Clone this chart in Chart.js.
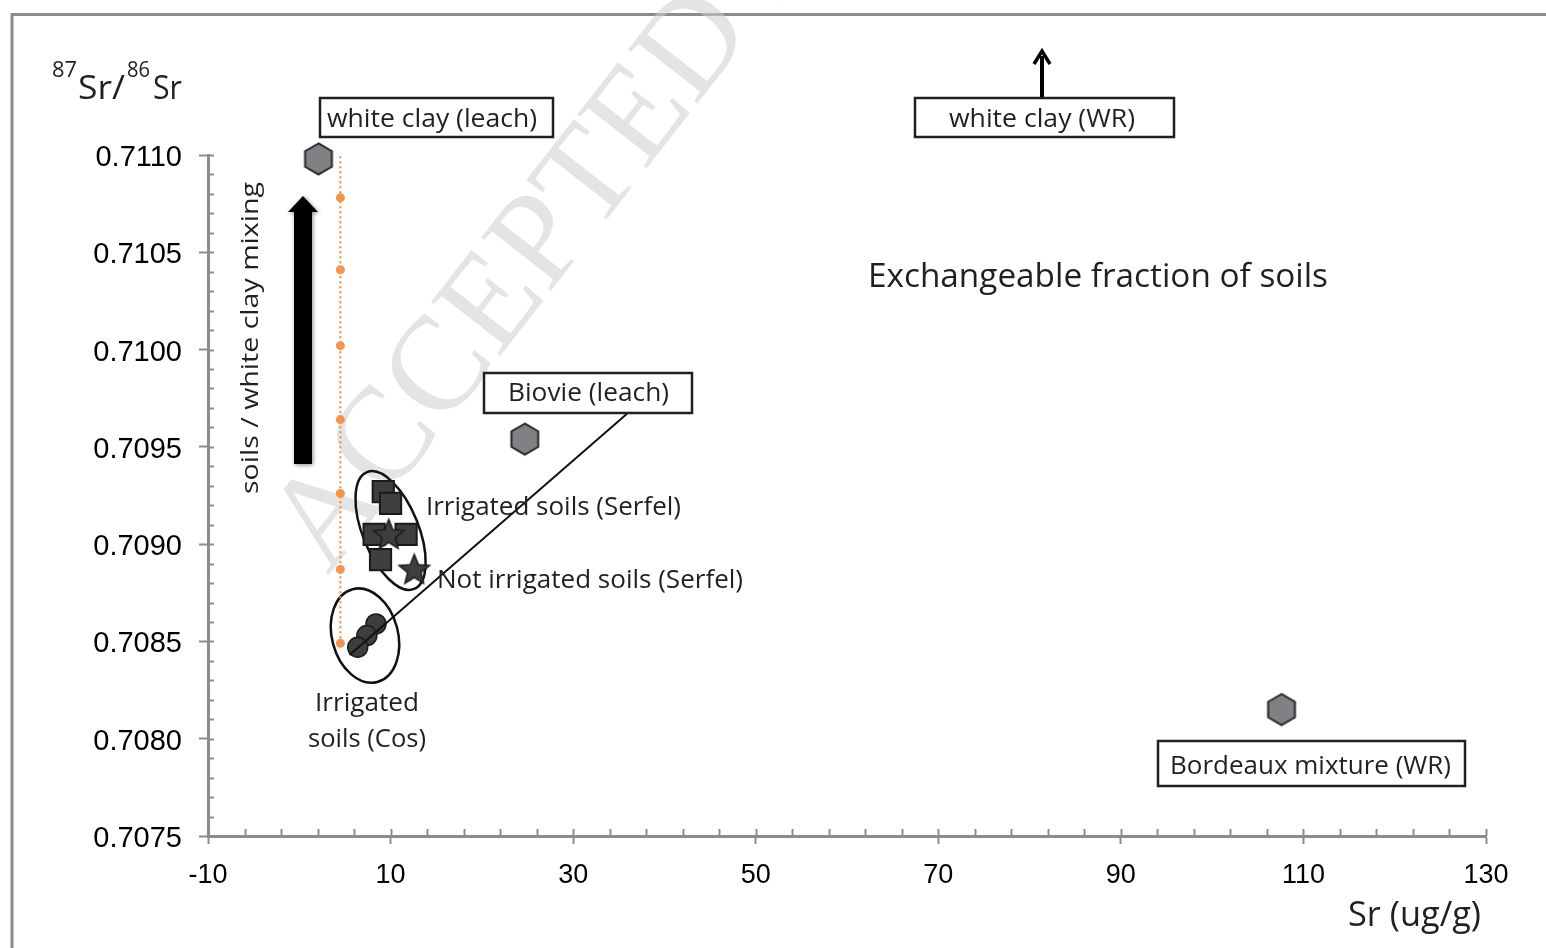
<!DOCTYPE html>
<html>
<head>
<meta charset="utf-8">
<script src="https://cdn.jsdelivr.net/npm/chart.js@4.4.1/dist/chart.umd.min.js"></script>
<style>
  html, body { margin: 0; padding: 0; background: #fff; }
</style>
</head>
<body>
<canvas id="chartId" width="1546" height="948"></canvas>
<script>
// --- data ---
const hexSr = [2.1, 24.7, 107.6];            // white clay (leach), Biovie (leach), Bordeaux mixture (WR)
const hexRatio = [0.71098, 0.70954, 0.70815];

const serfelSr = [9.2, 10.0, 8.2, 11.7, 8.9];       // Irrigated soils (Serfel)
const serfelRatio = [0.70927, 0.70921, 0.70905, 0.70905, 0.70892];

const notIrrSr = [9.8, 12.6];                      // Not irrigated soils (Serfel)
const notIrrRatio = [0.70905, 0.70887];

const cosSr = [8.4, 7.4, 6.4];                     // Irrigated soils (Cos)
const cosRatio = [0.70859, 0.70853, 0.70847];

const mixSr = [4.5, 4.5, 4.5, 4.5, 4.5, 4.5, 4.5, 4.5];   // mixing line
const mixRatio = [0.70849, 0.70887, 0.70926, 0.70964, 0.71002, 0.71041, 0.71078, 0.71101];

const leaderSr = [5.5, 35.9];
const leaderRatio = [0.70843, 0.70967];

const xMajorTicks = [-10, 10, 30, 50, 70, 90, 110, 130];
const yMajorTicks = ['0.7075', '0.7080', '0.7085', '0.7090', '0.7095', '0.7100', '0.7105', '0.7110'];

const GRAY = '#8c8c8c';
const FONT = '"Open Sans", "Noto Sans", sans-serif';

function xy(xs, ys) {
    return xs.map((v, i) => ({ x: v, y: ys[i] }));
}

// hexagon marker
function makeHexagon() {
    const c = document.createElement('canvas');
    c.width = 32; c.height = 36;
    const g = c.getContext('2d');
    g.beginPath();
    for (let i = 0; i < 6; i++) {
        const a = Math.PI / 2 + i * Math.PI / 3;
        const px = 16 + 15.5 * Math.cos(a);
        const py = 18 - 15.5 * Math.sin(a);
        if (i === 0) g.moveTo(px, py); else g.lineTo(px, py);
    }
    g.closePath();
    g.fillStyle = '#808185';
    g.fill();
    g.lineWidth = 2;
    g.strokeStyle = '#262626';
    g.stroke();
    return c;
}

// five point star marker
function makeStar() {
    const c = document.createElement('canvas');
    c.width = 36; c.height = 36;
    const g = c.getContext('2d');
    g.beginPath();
    for (let i = 0; i < 10; i++) {
        const r = i % 2 === 0 ? 16 : 7;
        const a = -Math.PI / 2 + i * Math.PI / 5;
        const px = 18 + r * Math.cos(a);
        const py = 19 + r * Math.sin(a);
        if (i === 0) g.moveTo(px, py); else g.lineTo(px, py);
    }
    g.closePath();
    g.fillStyle = '#3e3e3e';
    g.fill();
    g.lineWidth = 1.5;
    g.strokeStyle = '#1a1a1a';
    g.stroke();
    return c;
}

// text squeezed to a given width (the original font is narrower than what we have)
function fitText(ctx, text, x, y, width, size, align) {
    ctx.save();
    ctx.font = size + 'px ' + FONT;
    const m = ctx.measureText(text).width;
    ctx.translate(x, y);
    ctx.scale(width / m, 1);
    ctx.textAlign = align || 'left';
    ctx.textBaseline = 'alphabetic';
    ctx.fillStyle = '#231f20';
    ctx.fillText(text, 0, 0);
    ctx.restore();
}

function box(ctx, l, t, r, b) {
    ctx.save();
    ctx.strokeStyle = '#231f20';
    ctx.lineWidth = 2.5;
    ctx.fillStyle = '#fff';
    ctx.fillRect(l, t, r - l, b - t);
    ctx.strokeRect(l, t, r - l, b - t);
    ctx.restore();
}

const backdrop = {
    id: 'backdrop',
    beforeDraw(chart) {
        const ctx = chart.ctx;
        ctx.save();
        ctx.fillStyle = '#fff';
        ctx.fillRect(0, 0, chart.width, chart.height);
        // frame
        ctx.strokeStyle = GRAY;
        ctx.lineWidth = 3;
        ctx.beginPath();
        ctx.moveTo(12, 948);
        ctx.lineTo(12, 14.5);
        ctx.lineTo(1546, 14.5);
        ctx.stroke();
        // watermark
        ctx.translate(328, 576);
        ctx.rotate(-52 * Math.PI / 180);
        ctx.font = '134px "Liberation Serif", serif';
        ctx.fillStyle = 'rgba(205,205,205,0.55)';
        ctx.fillText('ACCEPTED MANUSCRIPT', 0, 0);
        ctx.restore();
    }
};

const decorations = {
    id: 'decorations',
    beforeDatasetsDraw(chart) {
        const ctx = chart.ctx;
        const x = chart.scales.x, y = chart.scales.y;
        // inward tick marks
        ctx.save();
        ctx.strokeStyle = GRAY;
        ctx.lineWidth = 2;
        x.ticks.forEach(t => {
            const px = Math.round(x.getPixelForValue(t.value)) + 0.5;
            ctx.beginPath();
            ctx.moveTo(px, y.bottom);
            ctx.lineTo(px, y.bottom - 7);
            ctx.stroke();
        });
        y.ticks.forEach(t => {
            const py = Math.round(y.getPixelForValue(t.value)) + 0.5;
            ctx.beginPath();
            ctx.moveTo(x.left, py);
            ctx.lineTo(x.left + 6, py);
            ctx.stroke();
        });
        // ellipses around the sample groups
        ctx.strokeStyle = '#111';
        ctx.lineWidth = 2.5;
        ctx.beginPath();
        ctx.ellipse(x.getPixelForValue(10.0), y.getPixelForValue(0.70907), 28, 63, -22 * Math.PI / 180, 0, Math.PI * 2);
        ctx.stroke();
        ctx.beginPath();
        ctx.ellipse(x.getPixelForValue(7.2), y.getPixelForValue(0.70853), 33, 48, -15 * Math.PI / 180, 0, Math.PI * 2);
        ctx.stroke();
        ctx.restore();
    },
    afterDraw(chart) {
        const ctx = chart.ctx;
        ctx.save();
        // y title 87Sr/86Sr
        fitText(ctx, '87', 52, 77, 25, 22);
        fitText(ctx, 'Sr/', 78, 99, 47, 33);
        fitText(ctx, '86', 127, 77, 23, 22);
        fitText(ctx, 'Sr', 153, 99, 29, 33);
        // x title
        fitText(ctx, 'Sr (ug/g)', 1348, 926, 133, 34);

        // mixing arrow
        ctx.save();
        ctx.shadowColor = 'rgba(0,0,0,0.45)';
        ctx.shadowBlur = 4;
        ctx.shadowOffsetX = 1;
        ctx.shadowOffsetY = 1;
        ctx.fillStyle = '#000';
        ctx.beginPath();
        ctx.moveTo(294, 464);
        ctx.lineTo(294, 212);
        ctx.lineTo(288, 212);
        ctx.lineTo(303, 196);
        ctx.lineTo(318, 212);
        ctx.lineTo(312, 212);
        ctx.lineTo(312, 464);
        ctx.closePath();
        ctx.fill();
        ctx.restore();

        // rotated label
        ctx.save();
        ctx.translate(258, 338);
        ctx.rotate(-Math.PI / 2);
        fitText(ctx, 'soils / white clay mixing', 0, 0, 312, 24, 'center');
        ctx.restore();

        // small arrow to white clay (WR)
        ctx.save();
        ctx.strokeStyle = '#000';
        ctx.lineWidth = 4;
        ctx.beginPath();
        ctx.moveTo(1042, 97);
        ctx.lineTo(1042, 56);
        ctx.stroke();
        ctx.lineWidth = 3.5;
        ctx.beginPath();
        ctx.moveTo(1034, 64);
        ctx.lineTo(1042, 51);
        ctx.lineTo(1050, 64);
        ctx.stroke();
        ctx.restore();

        // boxes
        box(ctx, 320, 98, 553, 137);
        fitText(ctx, 'white clay (leach)', 327, 127, 210, 26);
        box(ctx, 915, 98, 1174, 137);
        fitText(ctx, 'white clay (WR)', 949, 127, 186, 26);
        box(ctx, 484, 373, 692, 413);
        fitText(ctx, 'Biovie (leach)', 508, 401, 161, 26);
        box(ctx, 1158, 741, 1465, 786);
        fitText(ctx, 'Bordeaux mixture (WR)', 1170, 774, 281, 26);

        // free labels
        fitText(ctx, 'Exchangeable fraction of soils', 868, 287, 460, 33);
        fitText(ctx, 'Irrigated soils (Serfel)', 426, 515, 255, 26);
        fitText(ctx, 'Not irrigated soils (Serfel)', 437, 588, 306, 26);
        fitText(ctx, 'Irrigated', 315, 711, 104, 26);
        fitText(ctx, 'soils (Cos)', 308, 747, 118, 26);
        ctx.restore();
    }
};

const hexImg = makeHexagon();
const starImg = makeStar();

const chrt = document.getElementById('chartId').getContext('2d');
const chartId = new Chart(chrt, {
    type: 'scatter',
    data: {
        datasets: [
            {
                label: 'mixing',
                type: 'line',
                data: xy(mixSr, mixRatio),
                borderColor: '#f28a36',
                borderWidth: 2,
                borderDash: [2, 3],
                pointRadius: [4.5, 4.5, 4.5, 4.5, 4.5, 4.5, 4.5, 0],
                pointBackgroundColor: '#f5944a',
                pointBorderWidth: 0,
                fill: false,
                clip: false,
                order: 9
            },
            {
                label: 'hexagons',
                data: xy(hexSr, hexRatio),
                pointStyle: hexImg,
                clip: false,
                order: 8
            },
            {
                label: 'Irrigated soils (Serfel)',
                data: xy(serfelSr, serfelRatio),
                pointStyle: 'rect',
                pointRadius: 15,
                backgroundColor: '#3e3e3e',
                borderColor: '#1a1a1a',
                borderWidth: 2,
                order: 7
            },
            {
                label: 'Not irrigated soils (Serfel)',
                data: xy(notIrrSr, notIrrRatio),
                pointStyle: starImg,
                order: 6
            },
            {
                label: 'Irrigated soils (Cos)',
                data: xy(cosSr, cosRatio),
                pointStyle: 'circle',
                pointRadius: 10,
                backgroundColor: '#3e3e3e',
                borderColor: '#1a1a1a',
                borderWidth: 1.5,
                order: 5
            },
            {
                label: 'leader',
                type: 'line',
                data: xy(leaderSr, leaderRatio),
                borderColor: '#111',
                borderWidth: 2,
                pointRadius: 0,
                fill: false,
                order: 4
            }
        ]
    },
    options: {
        responsive: false,
        animation: false,
        devicePixelRatio: 1,
        layout: { padding: { left: 0, top: 155, right: 60, bottom: 0 } },
        plugins: {
            legend: { display: false },
            tooltip: { enabled: false }
        },
        scales: {
            x: {
                type: 'linear',
                min: -10,
                max: 130,
                afterFit: s => { s.height = 112; },
                afterBuildTicks: s => {
                    const t = [];
                    for (let i = 0; i < xMajorTicks.length; i++) {
                        t.push({ value: xMajorTicks[i], major: true });
                        if (i < xMajorTicks.length - 1) {
                            for (let k = 1; k < 5; k++) t.push({ value: xMajorTicks[i] + k * 4, major: false });
                        }
                    }
                    s.ticks = t;
                },
                border: { display: true, color: GRAY, width: 3 },
                grid: {
                    drawOnChartArea: false,
                    drawTicks: true,
                    tickLength: 8,
                    tickWidth: 2,
                    tickColor: c => (c.tick && c.tick.major) ? GRAY : 'rgba(0,0,0,0)'
                },
                ticks: {
                    autoSkip: false,
                    maxRotation: 0,
                    padding: 15,
                    color: '#000',
                    font: { family: '"Liberation Sans", Arial, sans-serif', size: 27 },
                    callback: (v) => xMajorTicks.includes(v) ? String(v) : ''
                }
            },
            y: {
                type: 'linear',
                min: 0.7075,
                max: 0.7110,
                afterFit: s => { s.width = 208; },
                afterBuildTicks: s => {
                    const t = [];
                    for (let i = 0; i < yMajorTicks.length; i++) {
                        const v = parseFloat(yMajorTicks[i]);
                        t.push({ value: v, major: true });
                        if (i < yMajorTicks.length - 1) {
                            for (let k = 1; k < 5; k++) t.push({ value: v + k * 0.0001, major: false });
                        }
                    }
                    s.ticks = t;
                },
                border: { display: true, color: GRAY, width: 3 },
                grid: {
                    drawOnChartArea: false,
                    drawTicks: true,
                    tickLength: 9,
                    tickWidth: 2,
                    tickColor: c => (c.tick && c.tick.major) ? GRAY : 'rgba(0,0,0,0)'
                },
                ticks: {
                    autoSkip: false,
                    padding: 17,
                    labelOffset: 3,
                    color: '#000',
                    font: { family: '"Liberation Sans", Arial, sans-serif', size: 29 },
                    callback: (v) => {
                        const s = v.toFixed(4);
                        return yMajorTicks.includes(s) ? s : '';
                    }
                }
            }
        }
    },
    plugins: [backdrop, decorations]
});
</script>
</body>
</html>
